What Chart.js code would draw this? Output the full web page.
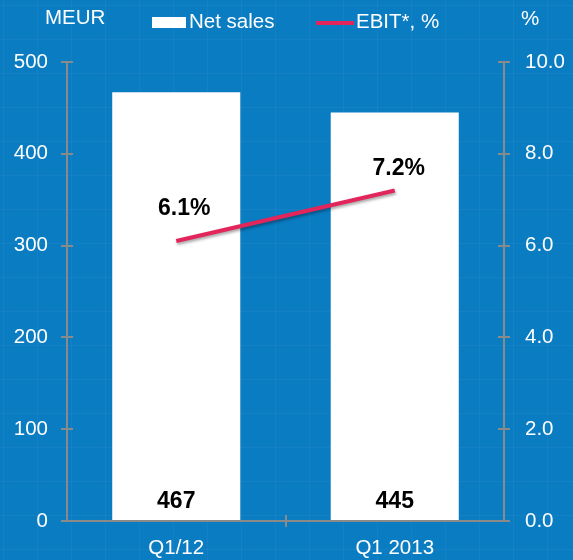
<!DOCTYPE html>
<html>
<head>
<meta charset="utf-8">
<script src="https://cdn.jsdelivr.net/npm/chart.js@4"></script>
<style>
html,body{margin:0;padding:0;background:#0a7cc2;}
#wrap{width:573px;height:560px;position:relative;}
</style>
</head>
<body>
<div id="wrap"><canvas id="c" width="573" height="560"></canvas></div>
<script>
// ---- data ----
const categories = ["Q1/12", "Q1 2013"];
const netSales = [467, 445];
const ebitPct = [6.1, 7.2];
const netSalesLabels = ["467", "445"];
const ebitLabels = ["6.1%", "7.2%"];
const leftTicks = [0, 100, 200, 300, 400, 500];
const rightTicks = [0, 2, 4, 6, 8, 10];

const FONT = "'Liberation Sans', Arial, sans-serif";
const AXIS = "#8a8a8a";
const TXT = 20.5;

const bgPlugin = {
  id: 'bg',
  beforeDraw(chart) {
    const ctx = chart.ctx;
    ctx.save();
    ctx.fillStyle = '#0a7cc2';
    ctx.fillRect(0, 0, chart.width, chart.height);
    ctx.strokeStyle = 'rgba(255,255,255,0.045)';
    ctx.lineWidth = 1;
    for (let x = 3.5; x < chart.width; x += 34) {
      ctx.beginPath(); ctx.moveTo(x, 0); ctx.lineTo(x, chart.height); ctx.stroke();
    }
    for (let y = 5.5; y < chart.height; y += 34) {
      ctx.beginPath(); ctx.moveTo(0, y); ctx.lineTo(chart.width, y); ctx.stroke();
    }
    ctx.restore();
  }
};

const shadowPlugin = {
  id: 'lineShadow',
  beforeDatasetDraw(chart, args) {
    if (args.index === 1) {
      const ctx = chart.ctx;
      ctx.save();
      ctx.shadowColor = 'rgba(0,0,0,0.35)';
      ctx.shadowBlur = 3;
      ctx.shadowOffsetX = 1;
      ctx.shadowOffsetY = 2;
    }
  },
  afterDatasetDraw(chart, args) {
    if (args.index === 1) chart.ctx.restore();
  }
};

const decorPlugin = {
  id: 'decor',
  afterDatasetsDraw(chart) {
    const ctx = chart.ctx;
    const ca = chart.chartArea;
    ctx.save();
    // inner tick halves
    ctx.strokeStyle = AXIS; ctx.lineWidth = 2;
    const yL = chart.scales.y, yR = chart.scales.y1, xs = chart.scales.x;
    yL.ticks.forEach(t => {
      const py = Math.round(yL.getPixelForValue(t.value));
      ctx.beginPath(); ctx.moveTo(ca.left, py); ctx.lineTo(ca.left + 6, py); ctx.stroke();
    });
    yR.ticks.forEach(t => {
      const py = Math.round(yR.getPixelForValue(t.value));
      ctx.beginPath(); ctx.moveTo(ca.right - 6, py); ctx.lineTo(ca.right, py); ctx.stroke();
    });
    // x-axis category boundary tick
    for (let i = 1; i < categories.length; i++) {
      const px = Math.round((xs.getPixelForValue(i - 1) + xs.getPixelForValue(i)) / 2);
      ctx.beginPath(); ctx.moveTo(px, ca.bottom - 6); ctx.lineTo(px, ca.bottom + 6); ctx.stroke();
    }
    // data labels
    ctx.fillStyle = '#000';
    ctx.font = "bold 23px " + FONT;
    ctx.textAlign = 'center'; ctx.textBaseline = 'middle';
    const barMeta = chart.getDatasetMeta(0);
    barMeta.data.forEach((el, i) => {
      ctx.fillText(netSalesLabels[i], el.x, ca.bottom - 19);
    });
    const lineMeta = chart.getDatasetMeta(1);
    const offs = [[8, -32], [4, -22]];
    lineMeta.data.forEach((el, i) => {
      ctx.fillText(ebitLabels[i], el.x + offs[i][0], el.y + offs[i][1]);
    });
    // axis unit titles
    ctx.fillStyle = '#fff';
    ctx.font = TXT + "px " + FONT;
    ctx.textAlign = 'left';
    ctx.fillText('MEUR', 45, 18);
    ctx.fillText('%', 521, 19);
    // legend
    const ds = chart.data.datasets;
    ctx.fillStyle = '#ffffff';
    ctx.fillRect(152, 17, 34, 11);
    ctx.fillText(ds[0].label, 189, 22);
    ctx.strokeStyle = ds[1].borderColor; ctx.lineWidth = 4;
    ctx.beginPath(); ctx.moveTo(316, 23); ctx.lineTo(354, 23); ctx.stroke();
    ctx.fillStyle = '#fff';
    ctx.fillText(ds[1].label, 356, 22);
    ctx.restore();
  }
};

new Chart(document.getElementById('c'), {
  data: {
    labels: categories,
    datasets: [
      {
        type: 'bar', label: 'Net sales', data: netSales, yAxisID: 'y',
        backgroundColor: '#ffffff', borderWidth: 0,
        categoryPercentage: 1.0, barPercentage: 0.586, order: 2
      },
      {
        type: 'line', label: 'EBIT*, %', data: ebitPct, yAxisID: 'y1',
        borderColor: '#e2265c', borderWidth: 4, pointRadius: 0,
        borderCapStyle: 'butt', tension: 0, order: 1
      }
    ]
  },
  options: {
    responsive: false, animation: false, devicePixelRatio: 1,
    layout: { padding: { top: 62, left: 0, right: 0, bottom: 0 } },
    plugins: { legend: { display: false }, tooltip: { enabled: false } },
    scales: {
      x: {
        offset: true,
        grid: { display: true, drawOnChartArea: false, drawTicks: false, color: 'rgba(0,0,0,0)' },
        border: { color: AXIS, width: 2 },
        ticks: { color: '#fff', font: { family: FONT, size: TXT }, padding: 15 },
        afterFit(s) { s.height = 39; }
      },
      y: {
        position: 'left', min: 0, max: 500,
        afterBuildTicks(s) { s.ticks = leftTicks.map(v => ({ value: v })); },
        grid: { drawOnChartArea: false, color: AXIS, tickLength: 6, lineWidth: 2 },
        border: { color: AXIS, width: 2 },
        ticks: { color: '#fff', font: { family: FONT, size: TXT }, padding: 13 },
        afterFit(s) { s.width = 67; }
      },
      y1: {
        position: 'right', min: 0, max: 10,
        afterBuildTicks(s) { s.ticks = rightTicks.map(v => ({ value: v })); },
        grid: { drawOnChartArea: false, color: AXIS, tickLength: 6, lineWidth: 2 },
        border: { color: AXIS, width: 2 },
        ticks: { color: '#fff', font: { family: FONT, size: TXT }, padding: 15,
          callback: v => Number(v).toFixed(1) },
        afterFit(s) { s.width = 69; }
      }
    }
  },
  plugins: [bgPlugin, shadowPlugin, decorPlugin]
});
</script>
</body>
</html>
